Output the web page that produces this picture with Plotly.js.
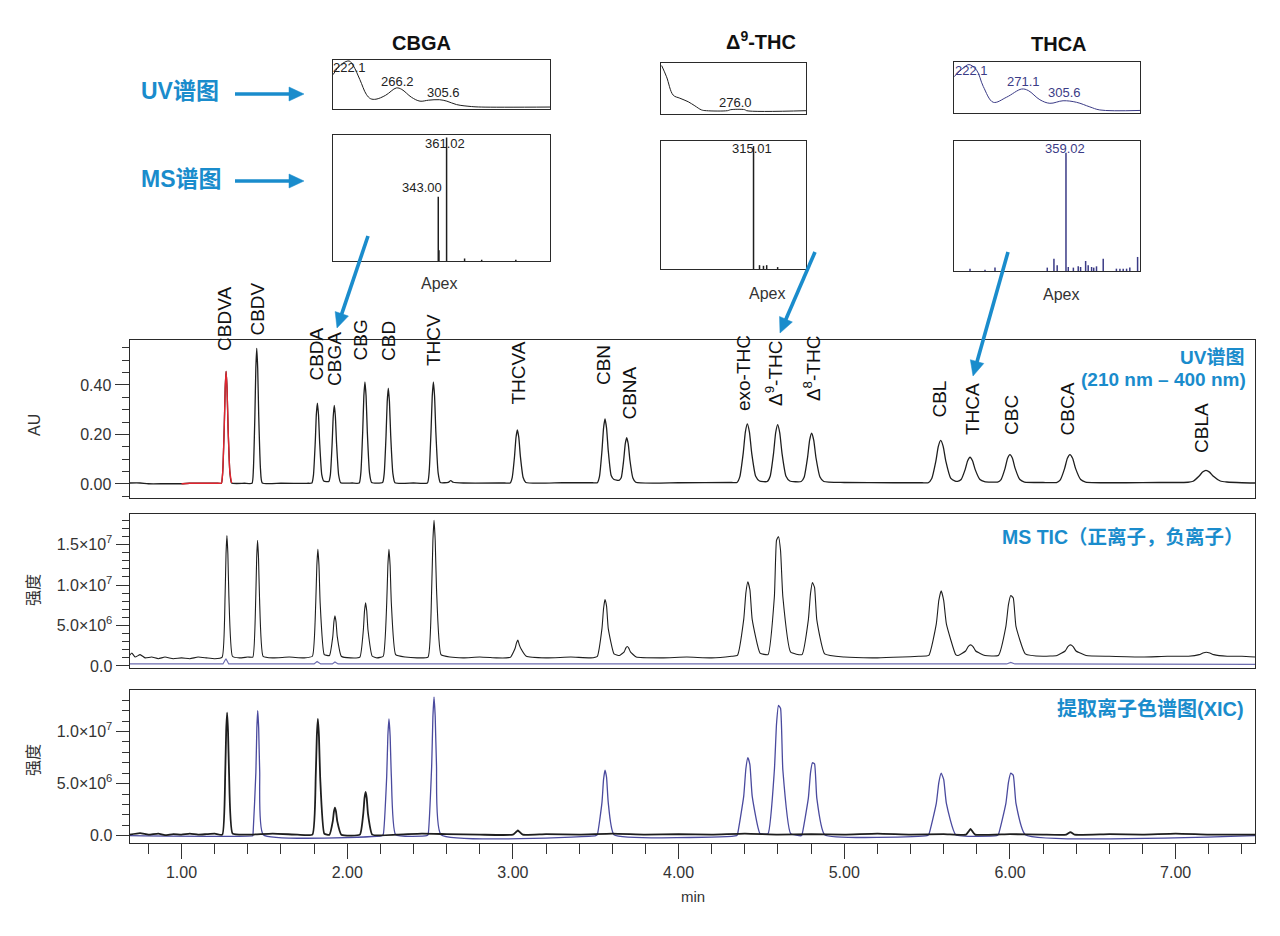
<!DOCTYPE html>
<html><head><meta charset="utf-8">
<script src="https://cdn.plot.ly/plotly-3.0.1.min.js"></script>
<style>html,body{margin:0;padding:0;background:#fff}#c{width:1280px;height:936px}</style>
</head><body><div id="c"></div>
<script>
// ---------------- DATA ----------------
// UV chromatogram (min, AU)
const uvTime = [0.686,0.75,0.80,0.90,1.00,1.05,1.15,1.22,
 1.2405,1.2486,1.2578,1.2636,1.269,1.2747,1.2809,1.2918,1.3023, 1.38,
 1.4255,1.4336,1.4428,1.4486,1.454,1.4597,1.4659,1.4768,1.4873, 1.60,1.76,
 1.787,1.7963,1.807,1.8137,1.820,1.8266,1.8338,1.8464,1.8585,
 1.889,1.8983,1.909,1.9157,1.922,1.9286,1.9358,1.9484,1.9605, 2.03,
 2.0725,2.0823,2.0934,2.1004,2.107,2.1139,2.1214,2.1346,2.1473,
 2.2135,2.2233,2.2344,2.2414,2.248,2.2549,2.2624,2.2756,2.2883, 2.40,
 2.484,2.4942,2.5058,2.5132,2.520,2.5272,2.535,2.5488,2.562, 2.61,2.625,2.64,2.70, 2.95,
 2.9835,2.9958,3.0099,3.0187,3.027,3.0357,3.0451,3.0618,3.0778, 3.30,3.48,
 3.5095,3.5227,3.5377,3.5472,3.556,3.5653,3.5754,3.5932,3.6103,
 3.6405,3.6537,3.6687,3.6782,3.687,3.6963,3.7064,3.7242,3.7413, 4.00,4.32,
 4.352,4.3698,4.3902,4.403,4.415,4.4276,4.4413,4.4654,4.4885,
 4.535,4.5528,4.5732,4.586,4.598,4.6106,4.6243,4.6484,4.6715,
 4.740,4.7578,4.7782,4.791,4.803,4.8156,4.8293,4.8534,4.8765, 5.00,5.30,5.47,
 5.507,5.5282,5.5525,5.5677,5.582,5.597,5.6133,5.642,5.6695,
 5.684,5.7052,5.7295,5.7447,5.759,5.774,5.7903,5.819,5.8465,
 5.925,5.9462,5.9705,5.9857,6.000,6.015,6.0313,6.06,6.0875, 6.20,
 6.281,6.304,6.3301,6.3466,6.362,6.3782,6.3958,6.4268,6.4565, 6.70,6.90,
 7.075,7.1056,7.1405,7.1625,7.183,7.2046,7.228,7.2694,7.309, 7.40,7.479];
const uvAU = [0.004,0.004,0.001,0.001,0.001,0.003,0.003,0.003,
 0.003,0.048,0.228,0.387,0.455,0.387,0.228,0.048,0.004, 0.003,
 0.003,0.058,0.277,0.469,0.548,0.469,0.277,0.058,0.004, 0.003,0.003,
 0.004,0.036,0.167,0.281,0.327,0.281,0.167,0.038,0.012,
 0.010,0.037,0.163,0.273,0.318,0.273,0.163,0.036,0.005, 0.004,
 0.004,0.045,0.210,0.355,0.413,0.355,0.210,0.045,0.006,
 0.006,0.043,0.197,0.332,0.387,0.332,0.197,0.043,0.005, 0.004,
 0.004,0.045,0.210,0.355,0.413,0.355,0.210,0.045,0.006, 0.007,0.014,0.007,0.004, 0.004,
 0.004,0.026,0.112,0.188,0.219,0.188,0.112,0.026,0.006, 0.005,0.005,
 0.005,0.031,0.135,0.226,0.263,0.226,0.136,0.034,0.018,
 0.015,0.025,0.097,0.162,0.187,0.161,0.096,0.024,0.007, 0.005,0.006,
 0.006,0.030,0.125,0.210,0.243,0.210,0.125,0.031,0.012,
 0.010,0.031,0.124,0.207,0.240,0.207,0.124,0.031,0.012,
 0.010,0.027,0.106,0.177,0.205,0.177,0.106,0.028,0.010, 0.006,0.005,0.005,
 0.005,0.022,0.091,0.152,0.176,0.152,0.091,0.024,0.012,
 0.011,0.018,0.058,0.094,0.108,0.094,0.058,0.018,0.010,
 0.008,0.018,0.063,0.104,0.119,0.104,0.063,0.018,0.008, 0.006,
 0.006,0.017,0.063,0.104,0.119,0.104,0.063,0.018,0.008, 0.005,0.006,
 0.007,0.011,0.031,0.048,0.055,0.048,0.031,0.012,0.008, 0.005,0.004];
const uvRedStart = 1.00, uvRedEnd = 1.36;

// MS TIC, positive ions (min, intensity in 1e6)
const ticTime = [0.686,0.70,0.72,0.75,0.78,0.82,0.86,0.90,0.95,1.00,1.05,1.10,1.15,1.20,
 1.2455,1.2628,1.2686,1.274,1.2797,1.2859,1.3073, 1.35,1.40,
 1.4305,1.4478,1.4536,1.459,1.4647,1.4709,1.4923, 1.55,1.65,1.74,
 1.790,1.810,1.8167,1.823,1.8296,1.8368,1.8615,
 1.893,1.913,1.9197,1.926,1.9326,1.9398,1.9645, 2.02,
 2.0765,2.0974,2.1044,2.111,2.1179,2.1254,2.1513, 2.18,
 2.2175,2.2384,2.2454,2.252,2.2589,2.2664,2.2923, 2.35,2.43,
 2.488,2.5098,2.5172,2.524,2.5312,2.539,2.566, 2.62,2.70,2.80,2.90,2.96,
 2.9865,3.0129,3.0217,3.030,3.0387,3.0481,3.0808, 3.20,3.35,3.47,
 3.5095,3.5377,3.5472,3.556,3.5653,3.5754,3.6103,
 3.6435,3.6717,3.6812,3.690,3.6993,3.7094,3.7443, 3.90,4.05,4.20,4.32,
 4.355,4.3932,4.406,4.418,4.4306,4.4443,4.4915,
 4.540,4.5782,4.591,4.603,4.6156,4.6293,4.6765,
 4.745,4.7832,4.796,4.808,4.8206,4.8343,4.8815, 5.00,5.20,5.35,5.45,
 5.510,5.5555,5.5707,5.585,5.600,5.6163,5.6725,
 5.687,5.7325,5.7477,5.762,5.777,5.7933,5.8495,
 5.930,5.9755,5.9907,6.005,6.020,6.0363,6.0925, 6.20,
 6.284,6.3331,6.3496,6.365,6.3812,6.3988,6.4595, 6.60,6.80,6.95,
 7.077,7.1425,7.1645,7.185,7.2066,7.23,7.311, 7.40,7.479];
const ticInt = [1.3,1.6,1.1,1.4,1.0,1.1,0.9,1.1,0.9,1.0,0.9,1.1,1.0,0.9,
 1.1,8.6,13.85,16.1,13.85,8.6,1.2, 1.0,1.1,
 1.1,8.3,13.34,15.5,13.34,8.3,1.2, 1.0,1.1,1.0,
 1.2,7.75,12.4,14.4,12.4,7.75,1.4,
 1.3,3.65,5.44,6.2,5.44,3.65,1.2, 1.0,
 1.1,4.45,6.8,7.8,6.8,4.45,1.2, 1.0,
 1.2,7.75,12.4,14.4,12.4,7.75,1.4, 1.1,1.0,
 1.1,9.55,15.47,18.0,15.47,9.55,1.4, 1.1,1.0,1.1,1.0,1.0,
 1.1,2.15,2.85,3.2,2.6,2.15,1.2, 1.0,1.1,1.0,
 1.2,4.65,7.1,8.2,7.4,4.65,1.5,
 1.3,1.75,2.2,2.4,2.2,1.75,1.1, 1.0,1.1,1.0,1.2,
 1.3,5.75,9.0,10.4,9.4,5.75,1.6,
 1.4,8.55,15.5,16.0,14.2,8.55,1.7,
 1.4,5.7,8.9,10.3,9.7,5.7,1.5, 1.1,1.0,1.1,1.2,
 1.3,5.2,8.1,9.3,8.1,5.2,1.4,
 1.3,1.85,2.4,2.6,2.4,1.85,1.3,
 1.3,4.9,7.55,8.7,8.4,4.9,1.5, 1.2,
 1.3,1.85,2.4,2.6,2.4,1.85,1.3, 1.2,1.1,1.2,
 1.2,1.4,1.6,1.7,1.6,1.4,1.2, 1.2,1.1];
// MS TIC, negative ions
const ticNegTime = [0.686,1.25,1.268,1.285,1.80,1.818,1.84,1.91,1.926,1.945,5.98,6.005,6.03,7.479];
const ticNegInt  = [0.25,0.25,0.9,0.25,0.25,0.55,0.25,0.25,0.5,0.25,0.25,0.45,0.25,0.2];

// XIC traces (min, intensity in 1e6)
const xicATime = [0.686,0.75,0.80,0.86,0.90,0.95,1.00,1.05,1.10,1.15,1.20,
 1.2465,1.2638,1.2696,1.275,1.2807,1.2869,1.3083, 1.40,1.55,1.70,
 1.790,1.810,1.8167,1.823,1.8296,1.8368,1.8615,
 1.893,1.913,1.9197,1.926,1.9326,1.9398,1.9645,
 2.0765,2.0974,2.1044,2.111,2.1179,2.1254,2.1513, 2.30,2.45,2.60,2.80,
 3.000,3.022,3.030,3.038,3.060, 3.20,3.40,3.60,3.80,4.00,4.20,4.40,4.60,4.80,5.00,5.20,5.40,5.60,
 5.735,5.755,5.762,5.770,5.790, 6.00,6.20,6.34,6.365,6.39, 6.60,6.80,7.00,7.20,7.479];
const xicAInt = [0.1,0.25,0.1,0.2,0.05,0.15,0.1,0.2,0.1,0.15,0.2,
 0.1,6.0,10.1,11.8,10.0,6.0,0.2, 0.1,0.2,0.1,
 0.1,5.7,9.6,11.2,9.5,5.6,0.2,
 0.1,1.4,2.3,2.7,2.3,1.4,0.1,
 0.1,2.2,3.6,4.2,3.6,2.1,0.1, 0.1,0.2,0.15,0.1,
 0.1,0.4,0.5,0.4,0.1, 0.15,0.1,0.2,0.1,0.15,0.1,0.2,0.1,0.15,0.1,0.2,0.1,0.15,
 0.1,0.5,0.65,0.5,0.1, 0.15,0.1,0.1,0.35,0.1, 0.15,0.1,0.2,0.1,0.1];
const xicBTime = [0.686,1.43,
 1.4315,1.4488,1.4546,1.460,1.4657,1.4719,1.4933, 2.21,
 2.2175,2.2384,2.2454,2.252,2.2589,2.2664,2.2923, 2.48,
 2.488,2.5098,2.5172,2.524,2.5312,2.539,2.566, 3.50,
 3.5095,3.5377,3.5472,3.556,3.5653,3.5754,3.6103, 4.35,
 4.355,4.3932,4.406,4.418,4.4306,4.4443,4.4915,
 4.540,4.5782,4.591,4.603,4.6156,4.6293,4.6765, 4.74,
 4.745,4.7832,4.796,4.808,4.8206,4.8343,4.8815, 5.50,
 5.510,5.5555,5.5707,5.585,5.600,5.6163,5.6725, 5.92,
 5.930,5.9755,5.9907,6.005,6.020,6.0363,6.0925, 7.479];
const xicBInt = [0,0,
 0.1,6.1,10.3,12.0,10.3,6.1,0.1, 0,
 0.1,5.7,9.6,11.2,9.6,5.7,0.1, 0,
 0.1,6.7,11.4,13.3,11.4,6.7,0.1, 0,
 0.1,3.2,5.4,6.3,5.6,3.2,0.1, 0,
 0.1,3.8,6.4,7.5,6.8,3.8,0.2,
 0.2,6.3,10.7,12.5,12.2,6.3,0.2, 0,
 0.1,3.6,6.0,7.0,6.9,3.6,0.1, 0,
 0.1,3.1,5.1,6.0,5.4,3.1,0.1, 0,
 0.1,3.1,5.1,6.0,5.8,3.1,0.1, 0];

// peak names and the retention time each label sits over
const peakNames = ['CBDVA','CBDV','CBDA','CBGA','CBG','CBD','THCV','THCVA','CBN','CBNA',
 'exo-THC','Δ<sup>9</sup>-THC','Δ<sup>8</sup>-THC','CBL','THCA','CBC','CBCA','CBLA'];
const peakLabelTime = [1.256,1.456,1.812,1.920,2.083,2.252,2.524,3.031,3.544,3.701,
 4.389,4.576,4.806,5.572,5.771,6.006,6.350,7.153];

// Inset UV spectra (nm, relative absorbance)
const cbgaUvNm  = [207,214,222,226,232,238,242,247,256,266,271,280,288,296,306,313,322,336,345,409];
const cbgaUvAbs = [0.70,0.90,0.98,0.88,0.60,0.30,0.21,0.20,0.28,0.43,0.40,0.24,0.16,0.18,0.19,0.16,0.09,0.05,0.04,0.04];
const d9UvNm  = [210.6,215,221,227,234.6,240.6,246.6,251,270,273,285.6,287.4,341];
const d9UvAbs = [0.95,0.73,0.37,0.31,0.24,0.16,0.08,0.065,0.065,0.085,0.085,0.065,0.065];
const thcaUvNm  = [209,217,222,228.7,234.5,243.2,254.8,267.9,273.7,283.8,292.5,304,315.7,327.3,336,371];
const thcaUvAbs = [0.71,0.88,0.95,0.84,0.52,0.21,0.31,0.47,0.44,0.26,0.19,0.24,0.21,0.12,0.06,0.05];
// Inset MS spectra (m/z, relative intensity)
const cbgaMz  = [343.00,344.5,361.02,400,437,511];
const cbgaInt = [0.51,0.085,0.98,0.02,0.01,0.01];
const d9Mz  = [315.01,328,336.6,343.6,367.4];
const d9Int = [0.96,0.03,0.025,0.03,0.015];
const thcaMz  = [151.6,184,205.6,318.6,333,340,359.02,364,375,385.5,390.6,401.5,407,414.4,419,425,439.5,468,475.6,482.7,490,497,513.8];
const thcaInt = [0.018,0.01,0.026,0.026,0.095,0.044,0.91,0.031,0.026,0.036,0.031,0.077,0.044,0.031,0.026,0.036,0.095,0.018,0.018,0.018,0.018,0.026,0.108];
// inset text labels
const cbgaUvLabels = ['222.1','266.2','305.6'];
const cbgaMsLabels = ['361.02','343.00'];
const d9UvLabels = ['276.0'];
const d9MsLabels = ['315.01'];
const thcaUvLabels = ['222.1','271.1','305.6'];
const thcaMsLabels = ['359.02'];

// axis tick text
const xTickVals = [1,2,3,4,5,6,7];
const xTickText = ['1.00','2.00','3.00','4.00','5.00','6.00','7.00'];
const uvTickVals = [0,0.2,0.4];
const uvTickText = ['0.00','0.20','0.40'];
const ticTickVals = [0,5,10,15];
const ticTickText = ['0.0','5.0×10<sup>6</sup>','1.0×10<sup>7</sup>','1.5×10<sup>7</sup>'];
const xicTickVals = [0,5,10];
const xicTickText = ['0.0','5.0×10<sup>6</sup>','1.0×10<sup>7</sup>'];

// ---------------- LAYOUT ----------------
const W = 1280, H = 936;
const X = p => p / W, Y = p => 1 - p / H;
const xd = (a, b) => [X(a), X(b)];
const yd = (top, bot) => [Y(bot), Y(top)];
const BLUE = '#1a8ccc', INK = '#1e1e1e', NAVY = '#3b3b86', XBLUE = '#4a4a9e';
const FONT = 'Liberation Sans, Arial, Noto Sans CJK SC, sans-serif';
const CJK = 'Liberation Sans, Noto Sans CJK SC, sans-serif';

function sticks(mz, inten) {
  const x = [], y = [];
  mz.forEach((m, i) => { x.push(m, m, null); y.push(0, inten[i], null); });
  return {x, y};
}
const redT = [], redY = [];
uvTime.forEach((t, i) => { if (t >= uvRedStart && t <= uvRedEnd) { redT.push(t); redY.push(uvAU[i]); } });

const cS = sticks(cbgaMz, cbgaInt), dS = sticks(d9Mz, d9Int), tS = sticks(thcaMz, thcaInt);
const msLine = (c, w) => ({color: c, width: w, shape: 'spline', smoothing: 0.4});

const traces = [
  {x: uvTime, y: uvAU, xaxis: 'x', yaxis: 'y', mode: 'lines', line: {color: INK, width: 1.3, shape: 'spline', smoothing: 0.5}},
  {x: redT, y: redY, xaxis: 'x', yaxis: 'y', mode: 'lines', line: {color: '#e1252f', width: 1.4, shape: 'spline', smoothing: 0.5}},
  {x: ticNegTime, y: ticNegInt, xaxis: 'x2', yaxis: 'y2', mode: 'lines', line: {color: '#6d6db0', width: 1.2}},
  {x: ticTime, y: ticInt, xaxis: 'x2', yaxis: 'y2', mode: 'lines', line: msLine(INK, 1.1)},
  {x: xicBTime, y: xicBInt, xaxis: 'x3', yaxis: 'y3', mode: 'lines', line: msLine(XBLUE, 1.3)},
  {x: xicATime, y: xicAInt, xaxis: 'x3', yaxis: 'y3', mode: 'lines', line: msLine(INK, 1.8)},
  {x: cbgaUvNm, y: cbgaUvAbs, xaxis: 'x4', yaxis: 'y4', mode: 'lines', line: {color: INK, width: 1, shape: 'spline'}},
  {x: cS.x, y: cS.y, xaxis: 'x5', yaxis: 'y5', mode: 'lines', line: {color: INK, width: 1.5}},
  {x: d9UvNm, y: d9UvAbs, xaxis: 'x6', yaxis: 'y6', mode: 'lines', line: {color: INK, width: 1, shape: 'spline'}},
  {x: dS.x, y: dS.y, xaxis: 'x7', yaxis: 'y7', mode: 'lines', line: {color: INK, width: 1.5}},
  {x: thcaUvNm, y: thcaUvAbs, xaxis: 'x8', yaxis: 'y8', mode: 'lines', line: {color: NAVY, width: 1, shape: 'spline'}},
  {x: tS.x, y: tS.y, xaxis: 'x9', yaxis: 'y9', mode: 'lines', line: {color: NAVY, width: 1.5}}
];

const frame = {showline: true, mirror: true, linecolor: '#2a2a2a', linewidth: 1, showgrid: false, zeroline: false, fixedrange: true};
const tickFont = {family: FONT, size: 16, color: '#333'};
const mainX = [0.686, 7.479];
const layout = {
  width: W, height: H, margin: {l: 0, r: 0, t: 0, b: 0},
  paper_bgcolor: '#fff', plot_bgcolor: 'rgba(0,0,0,0)', showlegend: false,
  xaxis: Object.assign({}, frame, {domain: xd(129.5, 1255), anchor: 'y', range: mainX, showticklabels: false, ticks: ''}),
  yaxis: Object.assign({}, frame, {domain: yd(340, 498), anchor: 'x', range: [-0.0566, 0.5818],
    tickmode: 'array', tickvals: uvTickVals, ticktext: uvTickText, ticks: 'outside', ticklen: 14, tickcolor: '#333', tickfont: tickFont,
    minor: {tickmode: 'linear', tick0: 0, dtick: 0.05, ticks: 'outside', ticklen: 7, tickcolor: '#333'}}),
  xaxis2: Object.assign({}, frame, {domain: xd(129.5, 1255), anchor: 'y2', range: mainX, showticklabels: false, ticks: ''}),
  yaxis2: Object.assign({}, frame, {domain: yd(514, 668), anchor: 'x2', range: [-0.25, 18.77],
    tickmode: 'array', tickvals: ticTickVals, ticktext: ticTickText, ticks: 'outside', ticklen: 13, tickcolor: '#333', tickfont: tickFont,
    minor: {tickmode: 'linear', tick0: 0, dtick: 1, ticks: 'outside', ticklen: 7, tickcolor: '#333'}}),
  xaxis3: Object.assign({}, frame, {domain: xd(129.5, 1255), anchor: 'y3', range: mainX,
    tickmode: 'array', tickvals: xTickVals, ticktext: xTickText, ticks: 'outside', ticklen: 15, tickcolor: '#333', tickfont: tickFont,
    minor: {tickmode: 'linear', tick0: 0, dtick: 0.2, ticks: 'outside', ticklen: 10, tickcolor: '#333'}}),
  yaxis3: Object.assign({}, frame, {domain: yd(690, 843), anchor: 'x3', range: [-0.70, 13.98],
    tickmode: 'array', tickvals: xicTickVals, ticktext: xicTickText, ticks: 'outside', ticklen: 13, tickcolor: '#333', tickfont: tickFont,
    minor: {tickmode: 'linear', tick0: 0, dtick: 1, ticks: 'outside', ticklen: 7, tickcolor: '#333'}}),
  annotations: [], shapes: []
};
// insets
const inset = (n, x0, x1, top, bot, xr) => {
  layout['xaxis' + n] = Object.assign({}, frame, {domain: xd(x0, x1), anchor: 'y' + n, range: xr, showticklabels: false, ticks: ''});
  layout['yaxis' + n] = Object.assign({}, frame, {domain: yd(top, bot), anchor: 'x' + n, range: [0, 1], showticklabels: false, ticks: ''});
};
inset(4, 333, 550, 60, 109, [207, 409]);
inset(5, 333, 550, 135, 261, [115, 585]);
inset(6, 661, 806, 63, 114, [210, 341]);
inset(7, 661, 806, 141, 269, [114, 429]);
inset(8, 954, 1140, 62, 113, [209, 371]);
inset(9, 954, 1140, 141, 271, [117, 519]);

const A = layout.annotations;
const txt = (text, x, y, o) => A.push(Object.assign({text, x: X(x), y: Y(y), xref: 'paper', yref: 'paper', showarrow: false,
  xanchor: 'center', yanchor: 'middle', font: {family: FONT, size: 13, color: '#222'}}, o || {}));
// titles above insets
txt('<b>CBGA</b>', 421, 43, {font: {family: FONT, size: 20, color: '#111'}});
txt('<b>Δ<sup>9</sup>-THC</b>', 761, 41, {font: {family: FONT, size: 20, color: '#111'}});
txt('<b>THCA</b>', 1059, 44, {font: {family: FONT, size: 20, color: '#111'}});
// left labels
txt('<b>UV谱图</b>', 139, 91, {xanchor: 'left', font: {family: CJK, size: 23, color: BLUE}});
txt('<b>MS谱图</b>', 139, 179, {xanchor: 'left', font: {family: CJK, size: 23, color: BLUE}});
// inset value labels
const insetFont = {family: FONT, size: 13, color: '#222'};
const navyFont = {family: FONT, size: 13, color: NAVY};
txt(cbgaUvLabels[0], 349, 68, {font: insetFont});
txt(cbgaUvLabels[1], 397, 81, {font: insetFont});
txt(cbgaUvLabels[2], 443, 93, {font: insetFont});
txt(cbgaMsLabels[0], 445, 143, {font: insetFont});
txt(cbgaMsLabels[1], 422, 188, {font: insetFont});
txt(d9UvLabels[0], 735, 102, {font: insetFont});
txt(d9MsLabels[0], 752, 148, {font: insetFont});
txt(thcaUvLabels[0], 971, 71, {font: navyFont});
txt(thcaUvLabels[1], 1023, 81, {font: navyFont});
txt(thcaUvLabels[2], 1064, 93, {font: navyFont});
txt(thcaMsLabels[0], 1065, 148, {font: navyFont});
txt('Apex', 439, 283, {font: {family: FONT, size: 16, color: '#333'}});
txt('Apex', 767, 293, {font: {family: FONT, size: 16, color: '#333'}});
txt('Apex', 1061, 294, {font: {family: FONT, size: 16, color: '#333'}});
// panel labels
txt('<b>UV谱图</b>', 1246, 357, {xanchor: 'right', font: {family: CJK, size: 19, color: BLUE}});
txt('<b>(210 nm – 400 nm)</b>', 1248, 379, {xanchor: 'right', font: {family: CJK, size: 19, color: BLUE}});
txt('<b>MS TIC（正离子，负离子）</b>', 1246, 537, {xanchor: 'right', font: {family: CJK, size: 19.5, color: BLUE}});
txt('<b>提取离子色谱图(XIC)</b>', 1246, 708, {xanchor: 'right', font: {family: CJK, size: 20, color: BLUE}});
// axis titles
txt('AU', 35, 425, {textangle: -90, font: {family: FONT, size: 16, color: '#333'}});
txt('强度', 33, 590, {textangle: -90, font: {family: CJK, size: 16, color: '#333'}});
txt('强度', 33, 760, {textangle: -90, font: {family: CJK, size: 16, color: '#333'}});
txt('min', 693, 896, {font: {family: FONT, size: 15, color: '#333'}});
// peak labels
const labelBottom = [353,338,383,388,362,363,368,407,387,422,413,408,403,420,437,437,437,455];
peakNames.forEach((n, i) => A.push({text: n, x: peakLabelTime[i], xref: 'x', y: Y(labelBottom[i]), yref: 'paper',
  showarrow: false, textangle: -90, xanchor: 'center', yanchor: 'bottom', font: {family: FONT, size: 19, color: '#111'}}));
// blue arrows drawn as shapes: shaft + triangular head
const S = layout.shapes;
function arrow(tx, ty, hx, hy) {
  const dx = hx - tx, dy = hy - ty, L = Math.hypot(dx, dy), ux = dx / L, uy = dy / L;
  const hl = 15, hw = 7;
  const bx = hx - ux * hl, by = hy - uy * hl;
  S.push({type: 'line', xref: 'paper', yref: 'paper', x0: X(tx), y0: Y(ty), x1: X(bx + ux * 2), y1: Y(by + uy * 2),
    line: {color: BLUE, width: 3.6}});
  const p1 = [bx - uy * hw, by + ux * hw], p2 = [bx + uy * hw, by - ux * hw];
  S.push({type: 'path', xref: 'paper', yref: 'paper', fillcolor: BLUE, line: {color: BLUE, width: 0.5},
    path: `M ${X(hx)} ${Y(hy)} L ${X(p1[0])} ${Y(p1[1])} L ${X(p2[0])} ${Y(p2[1])} Z`});
}
arrow(235, 94, 304, 94);
arrow(235, 181, 304, 181);
arrow(368, 236, 337, 328);
arrow(815, 252, 780, 333);
arrow(1008, 252, 973, 376);

Plotly.newPlot('c', traces, layout, {staticPlot: true, displayModeBar: false});
</script></body></html>
